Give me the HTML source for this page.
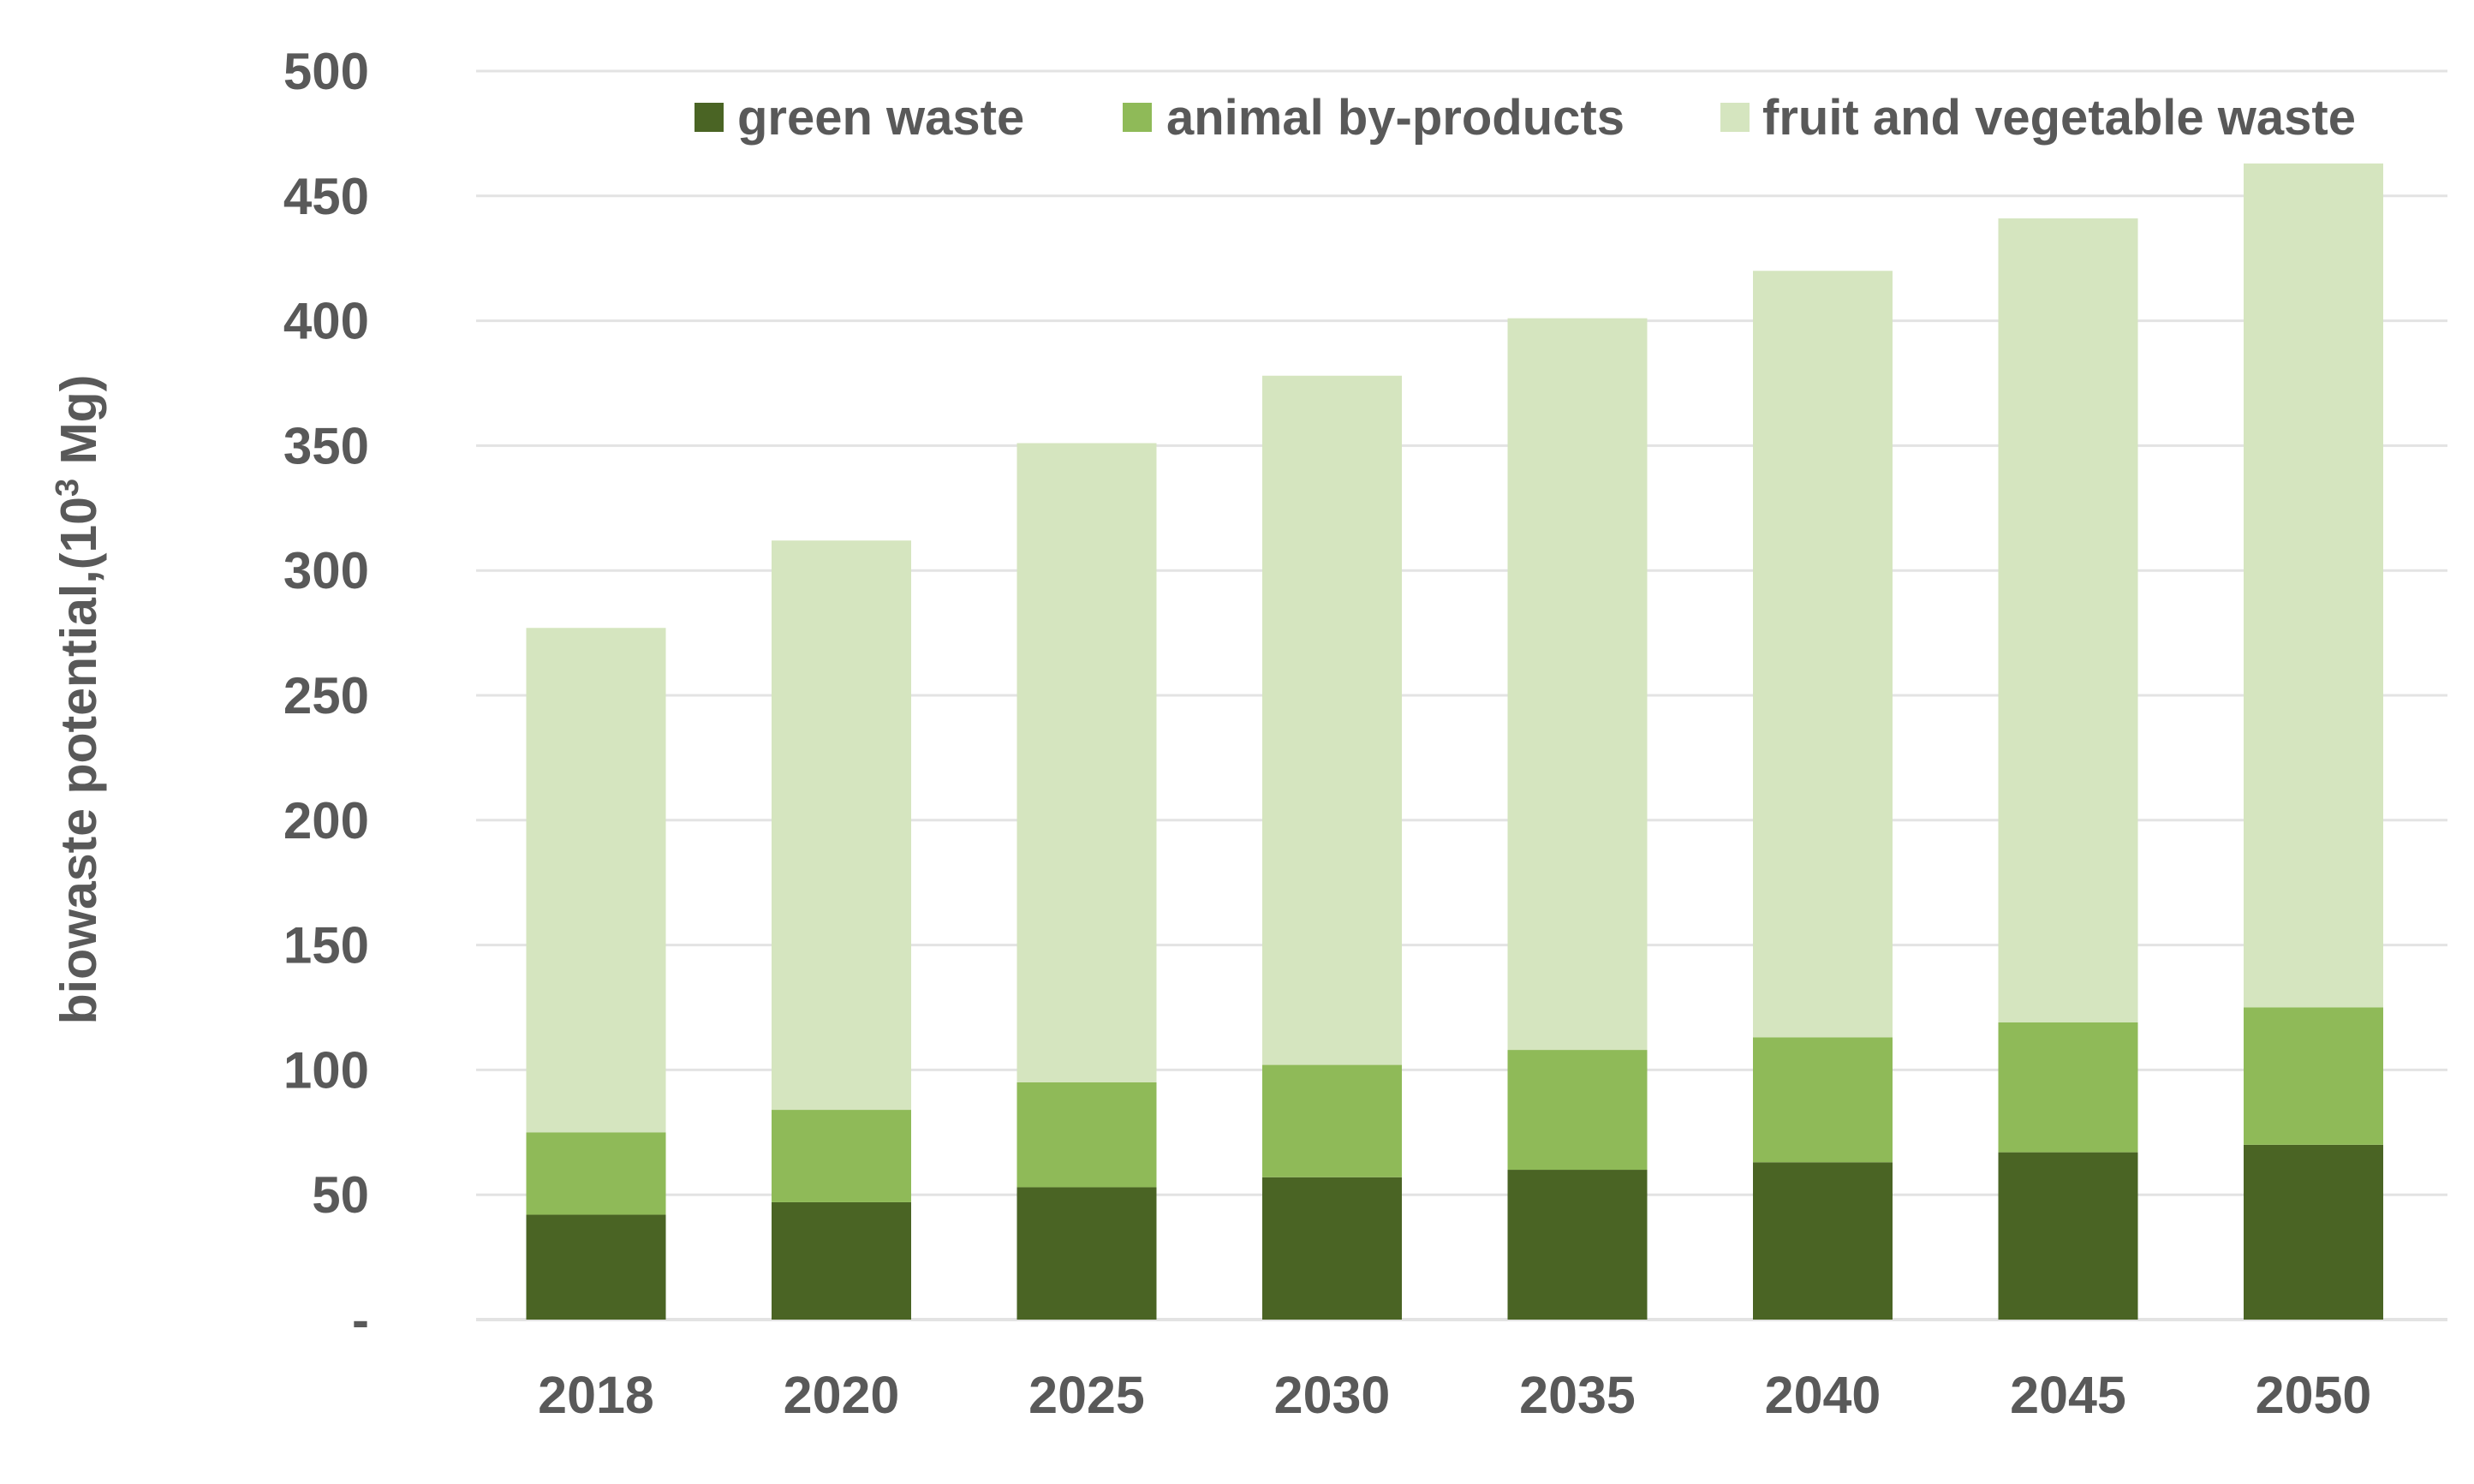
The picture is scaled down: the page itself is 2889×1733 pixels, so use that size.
<!DOCTYPE html>
<html><head><meta charset="utf-8"><style>
html,body{margin:0;padding:0;background:#fff;}
svg{display:block;font-family:"Liberation Sans",sans-serif;font-weight:bold;}
</style></head><body>
<svg id="chart" width="2889" height="1733" viewBox="0 0 2889 1733" xmlns="http://www.w3.org/2000/svg">
<text x="0" y="0" transform="translate(112,817) rotate(-90)" text-anchor="middle" font-size="59" fill="#595959">biowaste potential,(10<tspan font-size="38" dy="-21">3</tspan><tspan dy="21"> Mg)</tspan></text>
<g id="legend">
<rect x="811" y="120" width="34" height="34" fill="#4a6424"/>
<text x="861" y="157" font-size="58" fill="#595959">green waste</text>
<rect x="1311" y="120" width="34" height="34" fill="#8fba58"/>
<text x="1362" y="157" font-size="58" fill="#595959">animal by-products</text>
<rect x="2009" y="120" width="34" height="34" fill="#d5e5bf"/>
<text x="2058" y="157" font-size="58" fill="#595959">fruit and vegetable waste</text>
</g>
</svg>
<script>
const categories = ["2018","2020","2025","2030","2035","2040","2045","2050"];
const greenWaste = [42,47,53,57,60,63,67,70];
const animalByProducts = [33,37,42,45,48,50,52,55];
const fruitVegWaste = [202,228,256,276,293,307,322,338];
const yTicks = [0,50,100,150,200,250,300,350,400,450,500];
const yTickLabels = ["-","50","100","150","200","250","300","350","400","450","500"];

const NS = "http://www.w3.org/2000/svg";
const svg = document.getElementById("chart");
const plotL = 556, plotR = 2858, y0 = 1541, y500 = 83;
const yScale = v => y0 - (v / 500) * (y0 - y500);
const step = 286.5, firstC = 696, barW = 163;
const xCenter = i => firstC + i * step;
function mk(tag, attrs){const e=document.createElementNS(NS,tag);for(const k in attrs)e.setAttribute(k,attrs[k]);return e;}

const grid = mk("g",{});


svg.insertBefore(grid, svg.firstChild);
yTicks.forEach((t,i)=>{
  const y = yScale(t);
  const ln = mk("line",{x1:plotL,x2:plotR,y1:y,y2:y,stroke:"#e3e3e3","stroke-width":t===0?4:3});
  
  
  grid.appendChild(ln);
  const tx = mk("text",{x:431,y:y+21,"text-anchor":"end","font-size":60,fill:"#595959"});
  
  
  tx.textContent = yTickLabels[i];
  svg.appendChild(tx);
});

const series = [[greenWaste,"#4a6424","green-waste"],[animalByProducts,"#8fba58","animal-by-products"],[fruitVegWaste,"#d5e5bf","fruit-vegetable-waste"]];
categories.forEach((c,i)=>{
  let base = 0;
  series.forEach(([vals,col,nm])=>{
    const top = base + vals[i];
    const r = mk("rect",{x:xCenter(i)-barW/2,y:yScale(top),width:barW,height:yScale(base)-yScale(top),fill:col});
    
    
    svg.appendChild(r);
    base = top;
  });
  const tx = mk("text",{x:xCenter(i),y:1650,"text-anchor":"middle","font-size":61,fill:"#595959"});
  
  
  tx.textContent = c;
  svg.appendChild(tx);
});
</script>
</body></html>
